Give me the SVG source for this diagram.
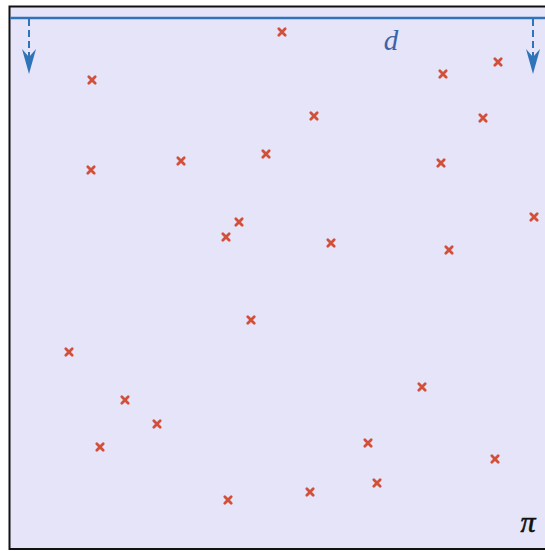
<svg xmlns="http://www.w3.org/2000/svg" width="545" height="551" viewBox="0 0 545 551">
<defs>
<style>
.x{stroke:#d2503a;stroke-width:2.8;stroke-linecap:round;fill:none}
.arr{stroke:#2f74b8;stroke-width:2;stroke-dasharray:7,4;fill:none}
.head{fill:#2f74b8}
</style>
<path id="m" d="M-3.2,-3.2L3.2,3.2M3.2,-3.2L-3.2,3.2"/>
</defs>
<rect x="9.5" y="6.5" width="540" height="542.5" fill="#e6e4f9" stroke="#111" stroke-width="2"/>
<g id="measure">
<line x1="10" y1="18" x2="545" y2="18" stroke="#2f74b8" stroke-width="2.5"/>
<g id="connectors">
<line class="arr" x1="29" y1="19" x2="29" y2="60"/>
<path class="head" d="M22,49 L29,57 L36,49 L29,74 Z"/>
<line class="arr" x1="533" y1="19" x2="533" y2="60"/>
<path class="head" d="M526,49 L533,57 L540,49 L533,74 Z"/>
</g>
<text x="391" y="50" font-family="Liberation Serif, serif" font-style="italic" font-size="29" fill="#3a64a8" text-anchor="middle">d</text>
</g>
<text x="528" y="532" font-family="Liberation Serif, serif" font-style="italic" font-size="30" fill="#111" stroke="#111" stroke-width="0.6" text-anchor="middle">π</text>
<g id="points" class="x">
<use href="#m" x="282" y="32"/>
<use href="#m" x="92" y="80"/>
<use href="#m" x="443" y="74"/>
<use href="#m" x="498" y="62"/>
<use href="#m" x="314" y="116"/>
<use href="#m" x="483" y="118"/>
<use href="#m" x="91" y="170"/>
<use href="#m" x="181" y="161"/>
<use href="#m" x="266" y="154"/>
<use href="#m" x="441" y="163"/>
<use href="#m" x="534" y="217"/>
<use href="#m" x="239" y="222"/>
<use href="#m" x="226" y="237"/>
<use href="#m" x="331" y="243"/>
<use href="#m" x="449" y="250"/>
<use href="#m" x="251" y="320"/>
<use href="#m" x="69" y="352"/>
<use href="#m" x="422" y="387"/>
<use href="#m" x="125" y="400"/>
<use href="#m" x="157" y="424"/>
<use href="#m" x="100" y="447"/>
<use href="#m" x="368" y="443"/>
<use href="#m" x="495" y="459"/>
<use href="#m" x="377" y="483"/>
<use href="#m" x="310" y="492"/>
<use href="#m" x="228" y="500"/>
</g>
</svg>
